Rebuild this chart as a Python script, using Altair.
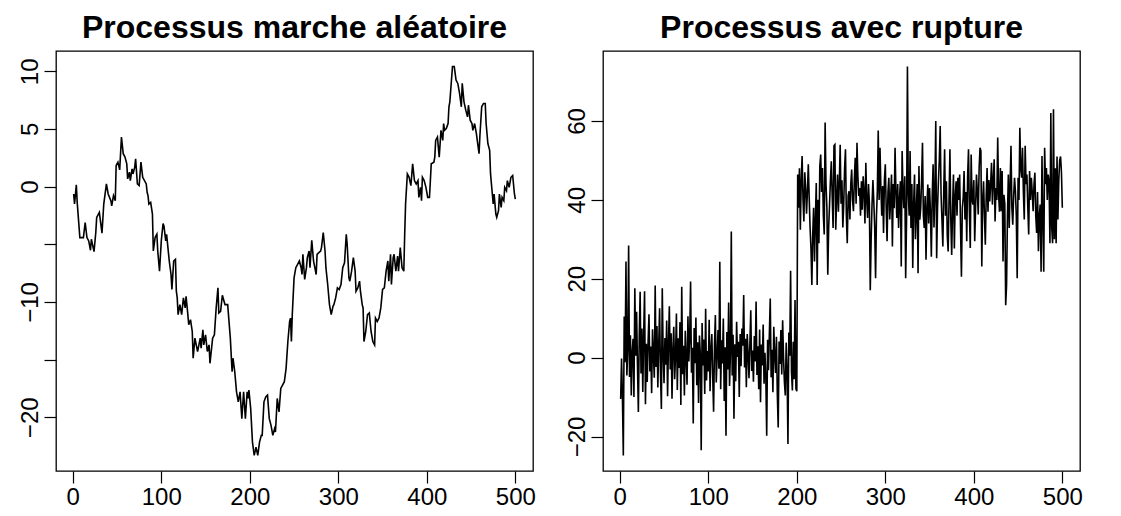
import altair as alt
import pandas as pd

# ---------------- data ----------------
# Left panel: random walk (index, value)
rw_t = [1, 2, 4, 5, 8, 12, 14, 16, 18, 20, 21, 24, 26, 27, 30, 33, 35, 38, 40, 43,
        44, 46, 48, 49, 51, 53, 55, 57, 59, 61, 62, 64, 65, 67, 68, 70, 71, 73, 75, 77,
        79, 83, 84, 85, 86, 88, 90, 91, 93, 95, 96, 98, 100, 102, 103, 105, 106, 109, 111, 112,
        114, 116, 117, 118, 119, 121, 123, 125, 127, 128, 130, 131, 133, 135, 136, 138, 141, 144, 145, 147,
        148, 150, 152, 154, 155, 158, 160, 162, 164, 165, 167, 169, 172, 175, 178, 180, 181, 183, 185, 187,
        189, 191, 193, 195, 197, 198, 199, 201, 203, 205, 207, 209, 211, 213, 214, 216, 218, 220, 222, 224,
        226, 228, 229, 231, 233, 235, 237, 239, 241, 243, 245, 246, 247, 248, 250, 252, 254, 256, 258, 259,
        260, 262, 264, 265, 267, 268, 270, 272, 275, 276, 278, 280, 281, 283, 285, 286, 288, 290, 292, 294,
        295, 297, 299, 301, 303, 305, 307, 309, 310, 312, 313, 315, 317, 319, 320, 322, 324, 325, 327, 328,
        329, 331, 333, 335, 337, 339, 341, 342, 344, 346, 348, 350, 352, 354, 356, 357, 359, 360, 362, 363,
        365, 367, 368, 370, 372, 374, 375, 376, 378, 380, 382, 384, 386, 388, 390, 391, 393, 394, 395, 397,
        399, 401, 403, 404, 405, 408, 409, 410, 412, 413, 414, 415, 416, 418, 419, 420, 422, 424, 425, 426,
        427, 429, 431, 433, 435, 437, 439, 440, 442, 444, 446, 447, 449, 451, 452, 454, 456, 457, 459, 460,
        462, 464, 466, 467, 469, 471, 472, 474, 475, 476, 478, 479, 481, 482, 484, 485, 487, 488, 490, 491,
        493, 495, 497, 499, 500]
rw_v = [-0.64, -1.51, 0.15, -1.37, -4.42, -4.42, -3.11, -4.42, -4.71, -5.52, -4.56, -5.64, -3.98, -2.67, -2.24, -4.04, -1.51, 0.23, -0.64, -1.22,
        -1.66, -0.78, -1.22, 1.83, 2.12, 1.45, 4.30, 2.85, 2.56, 1.98, 0.67, 1.25, 0.52, 1.54, 1.10, 1.69, 2.41, 0.23, 0.09, 2.12,
        0.81, 0.23, -0.49, -0.78, -1.51, -1.37, -2.38, -5.58, -4.42, -4.13, -5.58, -7.33, -4.71, -3.20, -3.40, -4.71, -4.13, -6.45, -7.62, -8.92,
        -6.45, -6.31, -9.07, -9.65, -11.10, -10.23, -11.10, -9.65, -10.52, -9.51, -11.10, -11.98, -11.54, -12.56, -14.88, -13.14, -14.30, -13.14, -14.01, -12.41,
        -13.72, -12.85, -14.30, -13.72, -15.32, -13.14, -12.85, -10.52, -8.78, -10.96, -10.81, -9.42, -10.23, -10.23, -13.14, -16.05, -14.88, -16.05, -17.79, -18.66,
        -17.79, -20.12, -17.79, -20.12, -17.79, -18.37, -17.65, -19.24, -22.15, -23.31, -22.59, -23.31, -22.15, -21.57, -21.57, -18.66, -18.23, -18.08, -20.12, -20.70,
        -21.57, -20.99, -21.28, -18.37, -19.53, -17.50, -17.21, -16.92, -15.76, -13.43, -11.69, -11.40, -13.43, -11.10, -7.91, -7.03, -6.74, -6.45, -7.03, -7.62,
        -5.87, -8.05, -7.03, -6.16, -5.58, -7.03, -4.65, -6.45, -7.62, -5.87, -5.73, -5.58, -5.29, -3.98, -5.58, -7.03, -8.49, -10.23, -11.10, -10.38,
        -10.23, -9.65, -8.78, -8.92, -8.49, -7.03, -6.60, -4.13, -5.00, -7.91, -8.20, -7.33, -6.16, -7.33, -9.07, -8.78, -8.20, -9.07, -10.23, -10.52,
        -13.43, -12.56, -11.10, -10.96, -12.56, -13.43, -13.72, -11.40, -11.69, -11.40, -10.52, -8.92, -8.78, -7.33, -6.45, -8.20, -5.87, -8.49, -6.16, -5.87,
        -7.33, -6.02, -7.33, -5.29, -7.03, -7.33, -4.13, -1.51, 1.10, 0.81, 0.09, 1.98, 0.52, 0.23, 0.52, -0.93, -0.06, -1.22, 0.81, 0.52,
        -0.06, -0.93, -0.93, 0.52, 1.98, 2.12, 2.56, 4.01, 4.30, 3.43, 2.56, 3.72, 4.88, 4.01, 5.47, 4.88, 5.03, 5.47, 6.92, 7.35,
        8.37, 10.41, 10.41, 9.24, 8.95, 8.08, 6.92, 8.95, 7.35, 6.63, 6.05, 7.06, 5.76, 5.47, 4.88, 5.47, 4.59, 4.01, 2.85, 4.45,
        6.92, 7.21, 7.21, 5.47, 3.72, 3.14, 1.10, -0.64, -1.51, -0.64, -2.38, -2.67, -2.09, -0.64, -1.80, -0.93, -1.22, -0.06, -0.35, 0.52,
        -0.06, 0.81, 0.96, -0.64, -1.08]

# Right panel: process with a break, values for t = 1..200 (before) and 201..500 (after)
rupture_before = [
    -10.5, -0.2, -10.1, -24.8, 10.4, -1.2, 24.4, -4.5, 2.0, 28.4,
    -4.9, 5.7, -9.6, 1.5, 4.8, -10.0, 17.6, 0.5, 11.6, -2.0,
    -13.8, 5.4, 16.7, -4.0, 7.4, -8.7, 5.9, 16.8, -11.8, 3.5,
    -6.2, 4.1, 11.0, -3.5, 2.8, -9.0, 7.2, 0.6, -5.1, 18.3,
    -2.4, 8.0, -7.6, 3.3, 12.5, -4.0, -13.0, 17.6, 1.2, -6.5,
    5.0, -1.8, 9.4, -9.8, 3.6, 13.0, -3.0, 6.2, -10.4, 2.1,
    7.8, -5.5, 0.4, 11.2, -8.2, 4.9, -2.6, 9.0, -12.0, 18.0,
    -4.2, 3.0, -9.6, 6.8, 0.0, -6.9, 10.5, -1.0, 5.2, 19.3,
    -3.8, 2.5, -16.7, 7.5, -1.4, 10.2, -7.0, 3.9, -11.5, 5.6,
    0.8, -23.5, 8.8, -2.0, 4.6, -9.2, 12.4, -5.8, 1.7, -3.5,
    9.6, -8.5, 2.2, 6.0, -4.8, -13.7, 3.1, 10.8, -6.3, 0.5,
    7.0, -2.8, 24.3, -8.0, 4.4, -1.5, 9.9, -11.0, 2.6, -19.8,
    6.5, -3.0, 14.0, -7.2, 1.0, 32.0, -4.5, 5.8, -15.5, 3.4,
    -6.0, 9.1, 0.2, 4.0, -10.0, 6.0, -2.2, 7.4, 3.0, 15.9,
    -2.5, 4.8, -7.5, 6.0, 0.9, -5.2, 3.7, 12.0, -3.4, 1.8,
    -6.1, 5.5, -1.0, 14.2, -4.4, 2.9, -8.0, 7.1, -11.3, 3.3,
    -2.0, 8.4, -6.6, 1.2, -4.9, -19.8, 4.5, -3.2, 6.0, 15.0,
    -5.0, 2.0, -8.8, 7.8, 0.6, -3.9, 5.3, -9.4, -17.7, 4.1,
    -1.6, 7.0, -4.3, 9.5, 0.0, -6.2, -9.6, 3.8, -2.9, -21.9,
    6.4, 0.5, 22.0, -3.6, -8.3, 4.0, -5.5, 14.6, -7.9, -8.5,
]
rupture_after = [
    46.4, 38.0, 48.0, 32.4, 45.0, 51.1, 40.2, 34.5, 47.0, 43.0,
    36.5, 42.1, 49.0, 40.5, 33.0, 27.8, 18.4, 31.2, 38.0, 24.4,
    35.0, 44.3, 18.4, 40.0, 29.0, 48.6, 51.5, 42.0, 48.1, 36.0,
    31.2, 59.6, 44.0, 38.0, 21.0, 33.0, 38.8, 45.0, 49.8, 41.0,
    32.9, 53.7, 54.0, 32.4, 40.0, 46.4, 37.0, 44.0, 54.0, 39.0,
    45.0, 33.0, 38.8, 48.0, 52.8, 36.0, 29.0, 41.0, 42.2, 35.0,
    44.0, 47.7, 40.0, 37.1, 45.0, 50.7, 39.0, 54.5, 46.0, 41.0,
    43.0, 36.0, 44.7, 37.5, 46.0, 42.2, 34.0, 49.4, 40.0, 35.4,
    44.0, 39.2, 17.1, 30.0, 38.8, 45.0, 39.6, 33.0, 20.1, 36.0,
    42.2, 57.6, 40.0, 53.2, 43.0, 36.0, 43.5, 31.6, 45.0, 49.0,
    38.0, 29.5, 42.0, 45.6, 35.0, 40.0, 46.4, 28.2, 44.0, 37.9,
    53.2, 42.0, 35.4, 44.0, 32.9, 40.0, 44.7, 23.1, 52.4, 42.0,
    37.9, 46.0, 20.1, 35.0, 73.8, 41.3, 36.0, 52.4, 32.9, 44.0,
    22.7, 39.0, 46.4, 30.0, 37.1, 44.0, 21.4, 48.6, 35.0, 38.0,
    45.0, 54.5, 36.0, 32.9, 41.0, 24.8, 38.0, 43.9, 34.0, 43.0,
    37.0, 25.6, 41.0, 49.0, 33.0, 42.0, 60.0, 25.2, 38.0, 44.7,
    50.0, 58.7, 41.3, 35.0, 28.2, 42.0, 52.8, 36.0, 44.7, 31.0,
    26.9, 40.0, 52.8, 35.0, 26.0, 38.0, 46.4, 27.7, 41.0, 44.7,
    36.0, 45.6, 40.0, 46.4, 33.0, 20.5, 38.0, 40.5, 47.3, 35.0,
    42.0, 29.5, 46.0, 52.8, 37.0, 27.8, 51.5, 40.0, 38.8, 45.0,
    29.5, 38.0, 46.4, 42.0, 36.3, 48.0, 53.2, 52.4, 23.1, 40.0,
    44.7, 36.0, 28.6, 41.0, 48.1, 37.0, 45.0, 39.6, 44.0, 49.4,
    38.8, 45.0, 50.3, 34.5, 43.0, 40.0, 55.8, 41.3, 37.0, 48.1,
    37.1, 47.3, 24.4, 41.3, 39.0, 13.3, 18.4, 36.0, 46.4, 32.9,
    44.0, 53.7, 38.0, 33.7, 41.0, 45.6, 42.2, 36.0, 20.1, 45.6,
    40.0, 58.3, 48.0, 45.6, 53.2, 42.0, 35.0, 53.7, 44.0, 46.4,
    38.0, 31.2, 47.3, 40.0, 45.6, 42.0, 37.1, 44.0, 46.9, 36.0,
    31.6, 42.0, 27.0, 36.0, 38.8, 21.8, 51.1, 35.0, 21.8, 53.2,
    44.0, 48.1, 40.0, 46.4, 44.7, 29.0, 62.0, 33.0, 29.0, 63.0,
    30.0, 48.0, 29.0, 51.0, 35.0, 45.0, 50.0, 51.0, 47.0, 38.0,
]

x_ticks = [0, 100, 200, 300, 400, 500]
left_y_ticks = [-20, -15, -10, -5, 0, 5, 10]
left_y_hidden = [-15, -5]
right_y_ticks = [-20, 0, 20, 40, 60]
titles = ["Processus marche aléatoire", "Processus avec rupture"]

# ---------------- chart ----------------
rup_v = rupture_before + rupture_after
rup_t = list(range(1, len(rup_v) + 1))

df_rw = pd.DataFrame({"t": rw_t, "v": rw_v})
df_rup = pd.DataFrame({"t": rup_t, "v": rup_v})


def rlim(vals):
    lo, hi = min(vals), max(vals)
    d = (hi - lo) * 0.04
    return [lo - d, hi + d]


FONT = "Liberation Sans"
FS = 24
TICK = 12
W, H = 477, 420


def x_axis():
    return alt.Axis(values=x_ticks, title=None, domain=False, grid=False,
                    tickSize=TICK, tickColor="black", tickWidth=1.2,
                    labelFont=FONT, labelFontSize=FS, labelColor="black",
                    labelPadding=2, labelFlush=False, labelOverlap=False,
                    labelAngle=0, labelBaseline="top", format="d")


def y_axis(values, hidden):
    expr = "datum.label"
    if hidden:
        cond = " || ".join(f"datum.value == {h}" for h in hidden)
        expr = f"({cond}) ? '' : datum.label"
    return alt.Axis(values=values, title=None, domain=False, grid=False,
                    tickSize=TICK, tickColor="black", tickWidth=1.2,
                    labelFont=FONT, labelFontSize=FS, labelColor="black",
                    labelPadding=2, labelFlush=False, labelOverlap=False,
                    labelAngle=270, labelAlign="center", labelBaseline="bottom",
                    format="d", labelExpr=expr)


def panel(df, title, yvals, yhidden, ydom):
    return alt.Chart(
        df,
        title=alt.Title(title, font=FONT, fontSize=32, fontWeight="bold",
                        color="black", anchor="middle", frame="group",
                        baseline="alphabetic", offset=-19),
    ).mark_line(color="black", strokeWidth=1.6).encode(
        x=alt.X("t:Q", scale=alt.Scale(domain=rlim([1, 500]), nice=False, zero=False),
                axis=x_axis()),
        y=alt.Y("v:Q", scale=alt.Scale(domain=ydom, nice=False, zero=False),
                axis=y_axis(yvals, yhidden)),
        order="t:Q",
    ).properties(width=W, height=H)


left = panel(df_rw, titles[0], left_y_ticks, left_y_hidden, rlim(rw_v))
right = panel(df_rup, titles[1], right_y_ticks, [], rlim(rup_v))

chart = alt.hconcat(left, right, spacing=70, bounds="flush").properties(
    padding={"left": 9, "top": 3, "right": 0, "bottom": 0},
    background="white",
).configure_view(stroke="black", strokeWidth=1.3)

chart.save("out.html", embed_options={"renderer": "svg", "actions": False})
